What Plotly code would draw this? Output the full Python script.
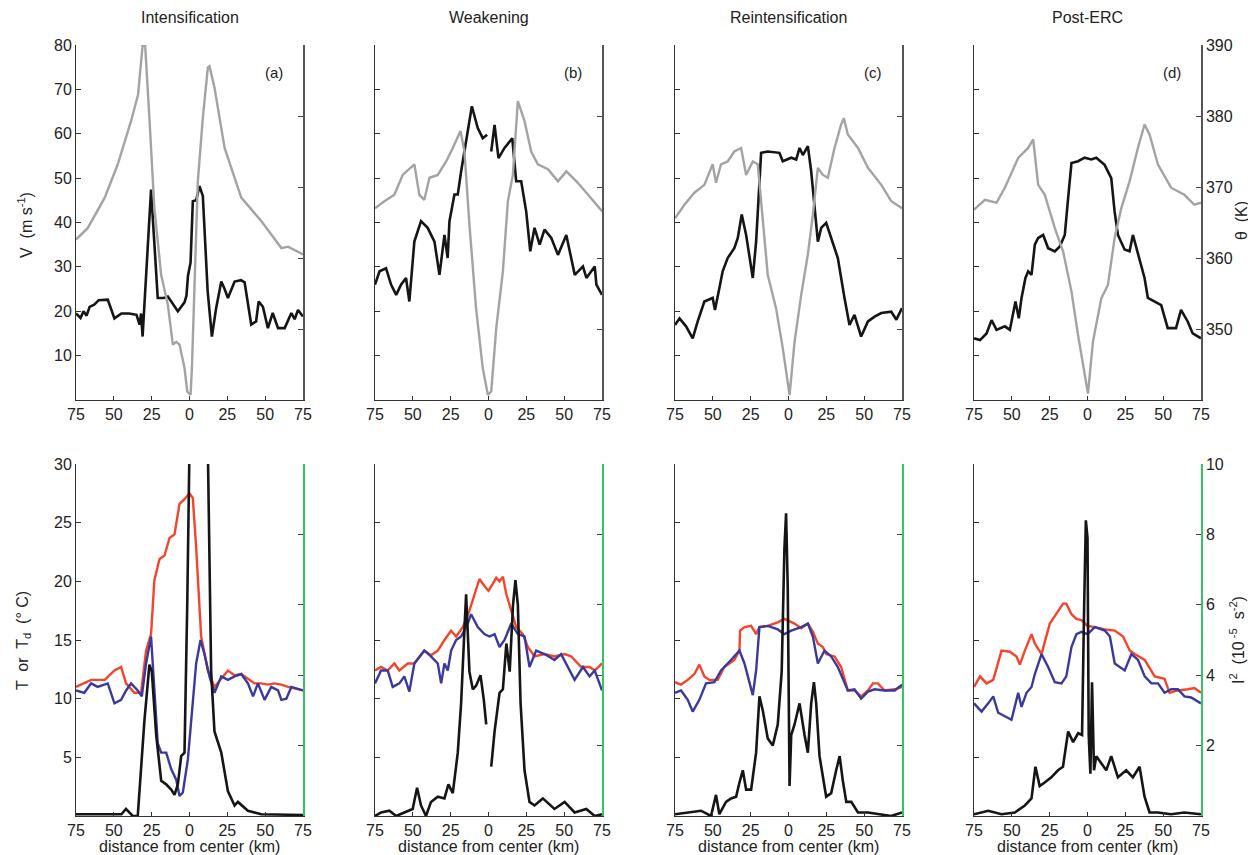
import plotly.graph_objects as go

# ---------------- data ----------------
# top row: tangential wind V (m/s, left axis) and theta (K, right axis)
INT_V_X = [-75, -72, -70, -68, -66, -63, -60, -57, -54, -49.6, -45, -40, -35, -33, -32, -31, -25.4, -21, -17, -14.3,
           -7.7, -3.3, -2, -1, 0.7, 2.2, 4.4, 6.6, 8.8, 12, 14.8, 17.6, 21, 23, 25.4, 29.8, 34, 36.4, 40.8, 44,
           45.7, 48.5, 51.8, 55, 58.5, 62.9, 67.3, 69.5, 71.7, 75]
INT_V = [19.5, 18.5, 20, 19, 21, 21.5, 22.5, 22.5, 22.6, 18.4, 19.5, 19.5, 19.2, 17, 19.5, 14.3, 47.4, 23, 23, 23.3,
         20, 22, 23.5, 28, 31, 44.8, 45, 48.2, 46, 24.5, 14.3, 20.7, 26.7, 25.2, 23, 26.7, 27, 26.5, 17, 17.7,
         22.2, 21, 16.2, 19.6, 16.2, 16.2, 19.6, 18.2, 20.3, 18.8]
INT_TH_X = [-75, -67.3, -56, -47.4, -38.6, -34, -31, -29.3, -26.5, -23.2, -18.7, -14.3, -11, -8.8, -6.6, -3.3, -1.5,
            0.7, 1.6, 3.3, 5.5, 8.8, 12.1, 13.2, 16.5, 23.2, 34.2, 47.4, 60.7, 65.1, 75]
INT_TH = [362.6, 364.2, 368.5, 373.2, 379.3, 383, 389.9, 389.9, 379.7, 367, 357.6, 353.4, 347.8, 348.2, 347.8, 344.5,
          341.2, 340.7, 344.5, 357.6, 370.8, 379.7, 386.8, 387, 384, 375.5, 368.5, 365.2, 361.4, 361.6, 360.5]

WEAK_V_X = [-75, -72, -67.7, -64.4, -61, -57.8, -54.5, -52.3, -49, -44.6, -40.2, -35.7, -32.4, -29.1, -27, -25.8,
            -22.5, -20.3, -18.1, -14.8, -11, -7.1, -3.8, -0.9, 0.4, 1.8, 4, 6.6, 10.6, 15.7, 18.3, 21.6, 24.9, 27.6,
            30.4, 33.8, 37, 41.5, 45.9, 51.4, 57, 62.4, 64.7, 70.2, 71.3, 75]
WEAK_V = [26, 29, 29.7, 26, 23.7, 26, 27.5, 22.2, 35.7, 40.3, 38.8, 35.7, 28.2, 37.2, 32, 40.3,
          46.3, 46.3, 51.5, 58.3, 66.2, 61.3, 59, 59.8, None, 56, 62, 54.5, 56.8, 59, 49.3, 49.3, 42.5, 33.5,
          38.8, 35, 38.4, 36.5, 32.7, 37.2, 28.2, 30.1, 27.5, 30.1, 26, 23.7]
WEAK_TH_X = [-75, -68.8, -62.2, -56.7, -49, -45.7, -42.4, -39, -33.5, -28, -23.6, -18.5, -15.9, -12.6, -8.2, -3.8,
             -0.4, 1.8, 5.1, 9.5, 12.8, 16.1, 19.4, 23.8, 28.2, 32.6, 39.3, 45.9, 51.4, 58.1, 65.8, 75]
WEAK_TH = [367, 368, 368.9, 371.7, 373.2, 368.9, 368.2, 371.3, 371.7, 373.6, 375.5, 377.9, 375, 364.7, 352.9, 344.5,
           340.7, 341.2, 350.1, 358.1, 368, 371.7, 382.1, 379.3, 375, 373.2, 372.5, 370.8, 372.2, 370.8, 368.9, 366.6]

REINT_V_X = [-75, -72, -67.7, -63.3, -60, -55.6, -50.1, -48.6, -45.7, -43.5, -40.2, -35.8, -33.5, -30.9, -28, -23.6,
             -21.4, -18.1, -13.7, -6, -3.8, 1.8, 5.1, 7.3, 9.5, 12.8, 15, 17.2, 19.4, 21.6, 24.9, 28.2, 32.6, 37,
             40.3, 43.6, 48, 52.5, 56.9, 61.3, 67.9, 71.3, 75]
REINT_V = [16.9, 18.4, 16.6, 13.9, 17.7, 22.2, 23, 20.3, 25.2, 29, 32, 34.2, 36.5, 41.8, 37.2, 27.5,
           35.7, 55.7, 56, 55.7, 53.8, 54.6, 54.2, 56.8, 55.2, 57.2, 51.5, 43.3, 35.7, 38.8, 39.9, 36.5, 32, 23,
           16.9, 19.2, 14.3, 17.7, 18.8, 19.6, 19.9, 18.1, 20.7]
REINT_TH_X = [-75, -68.8, -62.2, -55.6, -50.1, -47.9, -44.6, -40.2, -35.8, -31.3, -28, -23.6, -20.3, -18.1, -13.7,
              -8.2, -3.8, 0.7, 4, 8.4, 12.8, 16.1, 19.4, 22.7, 26, 30.4, 34.8, 36.6, 39.2, 45.9, 52.5, 61.3, 67.9, 75]
REINT_TH = [365.6, 367.5, 369.2, 370.3, 373.2, 370.6, 373.2, 373.6, 375, 375.5, 371.7, 373.6, 373.2, 368, 357.6,
            352.9, 347.3, 340.7, 348.2, 354.8, 360.5, 366.1, 372.7, 371.7, 371.3, 375.5, 378.8, 379.7, 377.4, 375.5,
            372.7, 370.3, 368, 367]

POST_V_X = [-75, -71, -66.7, -63.4, -60.1, -54.6, -51.3, -47.6, -45.4, -43.6, -41, -39.2, -37, -34.8, -32.6, -29.3,
            -26, -21.6, -18.3, -15, -12.8, -10.6, -6.2, -1.9, 2.5, 5.8, 11.3, 15.7, 17.9, 20.1, 24.5, 27.8, 30, 34.4,
            37.7, 39.9, 44.3, 48.7, 53, 58.5, 61.8, 66.2, 69.5, 75]
POST_V = [13.9, 13.5, 15, 18, 15.8, 16.6, 15.8, 22.2, 18.4, 23, 27.5, 29, 28.2, 35, 36.5, 37.2,
          34.2, 33.5, 34.6, 37.2, 45.5, 53.4, 53.8, 54.6, 54.2, 54.6, 53, 50, 42.5, 37.2, 33.9, 33.5, 37.2, 32,
          27.5, 23, 22.2, 21.4, 16.2, 16.2, 20.3, 17.7, 15, 13.9]
POST_TH_X = [-75, -67.8, -60.1, -54.6, -45.8, -39.2, -35.9, -32.6, -28.2, -21.6, -16.1, -10.6, -6.3, -1.9, 0.3, 3.6,
             9.1, 13.5, 17.9, 22.3, 27.8, 33.3, 37.7, 41, 46.5, 55.2, 64, 70.6, 75]
POST_TH = [366.8, 368.2, 367.8, 369.9, 374.1, 375.5, 376.7, 370.3, 368.9, 364.2, 360.9, 355.3, 349.2, 344, 340.9,
           348.2, 354.3, 356.2, 362.8, 367, 370.8, 375.5, 378.8, 377.4, 373.2, 369.9, 368.9, 367.5, 367.8]

# bottom row: T, Td (deg C, left axis) and I^2 (1e-5 s^-2, right axis)
INT_T_X = [-75, -69.5, -65, -56, -49.6, -45.2, -41.9, -36.4, -32, -28.7, -25.4, -23.2, -19.8, -16.5, -13.2, -9.9,
           -6.6, -3.3, 0, 2.2, 4.4, 7.7, 12.1, 16.5, 23.2, 25.4, 29.8, 34.2, 43, 47.4, 51.8, 56.2, 60.7, 65.1, 75]
INT_T = [11, 11.3, 11.6, 11.6, 12.4, 12.7, 11.3, 10.5, 10.5, 14.1, 15.5, 20.1, 21.9, 22.2, 23.7, 24,
         26.6, 27, 27.5, 27.1, 22.9, 15.3, 12.4, 11, 12.1, 12.4, 12, 12.1, 11.3, 11.3, 11.2, 11.3, 11.2, 11, 10.7]
INT_TD_X = [-75, -69.5, -65, -60.7, -54, -49.6, -45.2, -41.9, -38.6, -34.2, -31.5, -28.7, -25.4, -23.2, -21, -18.7,
            -15.4, -12.1, -8.8, -6.6, -4.4, -1.1, 2.2, 4.4, 7.3, 9.9, 13.2, 16.5, 21, 25.4, 29.8, 34.2, 38.6, 42,
            45.2, 49.6, 54, 58.5, 60.7, 64, 67.3, 75]
INT_TD = [10.7, 10.5, 11.3, 11, 11.3, 9.6, 9.9, 10.7, 11.3, 10.7, 10.2, 13, 15.3, 10.7, 6.2, 5.4,
          5.4, 4, 3.1, 1.7, 2, 4.8, 9.6, 13, 15, 13.8, 11.9, 10.5, 11.9, 11.6, 11.9, 12.1, 11.3, 10.2,
          11.3, 9.9, 11, 10.7, 9.9, 10, 11, 10.7]
INT_I2_X = [-75, -60, -45, -42, -37.5, -34.2, -29.8, -26.5, -24.9, -22, -18.7, -15.4, -12.1, -9.9, -7.7, -5.5, -3.3,
            -1.5, 0, 3, 6, 9, 12.1, 12.8, 14.3, 16.5, 21, 25.4, 29.8, 32, 38.6, 47.4, 60, 75]
INT_I2 = [0.05, 0.05, 0.05, 0.2, 0, 0, 2.7, 4.3, 4.1, 2.3, 1.0, 0.9, 0.75, 0.6, 0.9, 1.7, 1.8,
          6.0, 10.5, 12, 12, 12, 10.5, 8.4, 4.1, 2.4, 1.8, 0.7, 0.3, 0.4, 0.15, 0.05, 0.05, 0.03]

WEAK_T_X = [-75, -71, -66.6, -62.2, -58.9, -53.4, -49, -45.7, -42.4, -38, -33.5, -29.1, -24.7, -21.4, -17, -12.6,
            -9.3, -6, -2.7, 0, 2.9, 5.1, 7.3, 9.5, 11.8, 15, 18.3, 22.7, 26, 30.4, 37, 43.6, 50.3, 54.7, 61.3,
            66.8, 70.2, 75]
WEAK_T = [12.4, 12.7, 12.4, 13, 12.4, 13, 13, 13.6, 14.1, 13.7, 14.1, 15, 15.8, 15.3, 16.1, 17.5,
          18.9, 20.2, 19.6, 19.2, 19.8, 20.3, 20, 20.4, 18.9, 17.5, 16.1, 15.5, 14.4, 13.6, 13.8, 13.6, 13.8, 13.6,
          12.7, 12.7, 12.4, 13]
WEAK_TD_X = [-75, -71, -66.6, -63.3, -58.9, -55.6, -52.3, -49, -42.4, -38, -33.5, -31.3, -29.1, -26.9, -24.7, -21.4,
             -18.1, -13.7, -11.5, -7.1, -2.7, 0.7, 4, 7.3, 10.6, 15, 19.4, 23.8, 27.1, 31.5, 37, 43.6, 48, 52.5,
             56.9, 62.4, 66.8, 70.2, 75]
WEAK_TD = [11.3, 12.4, 12.4, 11, 11.3, 11.9, 10.6, 13, 14.1, 13.6, 13, 11.3, 13, 12.4, 14.1, 15,
           15.3, 16.4, 17.2, 16.1, 15.5, 15.3, 15.5, 14.4, 15, 16.4, 15.5, 15.3, 12.7, 14.1, 13.8, 13.3, 13.8, 12.7,
           11.6, 12.7, 11.9, 12.4, 10.7]
WEAK_I2_X = [-75, -71, -65.5, -61, -55.6, -50.1, -47.2, -44.6, -41.3, -38, -33.5, -29.1, -26.5, -23.6, -20.3, -18.1,
             -15.9, -14.8, -12.6, -10.4, -8.2, -5.3, -3.1, -1.5, 0, 1.8, 4, 7.3, 9.5, 11.8, 14, 16.2, 17.8, 19.4,
             21.2, 23.8, 27.1, 30.4, 35.9, 43.6, 50.3, 56.9, 64.6, 70.2, 75]
WEAK_I2 = [0, 0.1, 0.15, 0, 0.1, 0.2, 0.8, 0.3, 0, 0.4, 0.55, 0.5, 0.9, 0.65, 1.8, 3.2,
           5.3, 6.3, 4.1, 3.6, 3.7, 4.0, 3.3, 2.6, None, 1.4, 2.4, 3.5, 3.6, 4.9, 4.1, 6.0, 6.7, 6.0,
           3.2, 1.3, 0.4, 0.3, 0.5, 0.2, 0.4, 0.1, 0.2, 0, 0.05]

REINT_T_X = [-75, -71, -66.6, -62.2, -58.9, -55.6, -52.3, -46.8, -42.4, -35.8, -32.4, -32, -29.1, -24.7, -21.4,
             -19.2, -13.7, -7.1, -2.7, 1.8, 4, 8.4, 12.8, 16.1, 19.4, 22.7, 24.9, 30.4, 34.8, 39.2, 43.6, 48, 52.5,
             55.8, 59.1, 63.5, 70.2, 75]
REINT_T = [11.4, 11.2, 11.6, 12.1, 12.9, 11.9, 11.6, 11.6, 12.7, 13.3, 14.1, 15.8, 16.1, 16.2, 15.5,
           16.1, 16.2, 16.5, 16.8, 16.5, 16.4, 16, 16.4, 15.7, 14.7, 14.4, 13.8, 13.6, 12.7, 10.7, 10.7, 10.2, 10.7,
           11.3, 11.3, 10.7, 10.8, 11]
REINT_TD_X = [-75, -71, -66.6, -63.3, -58.9, -54.5, -49, -44.6, -38, -32.4, -29.1, -25.8, -23.6, -21.4, -19.2,
              -13.7, -7.1, -2.7, 1.8, 8.4, 12.8, 16.1, 19.4, 23.8, 28.2, 32.6, 39.2, 43.6, 48, 52.5, 56.9, 63.5,
              70.2, 75]
REINT_TD = [10.5, 10.7, 9.9, 8.9, 9.9, 11.3, 11.4, 12.4, 13.3, 14.1, 13, 11.3, 10.3, 12.4, 16.1,
            16.2, 15.9, 15.5, 15.8, 16.1, 16.4, 15.3, 13, 14.1, 13.6, 12.7, 10.7, 10.8, 10, 10.6, 10.8, 10.7,
            10.7, 11.2]
REINT_I2_X = [-75, -64.4, -57.8, -51.2, -47.9, -45.7, -41.3, -38, -34.6, -32.4, -30.2, -28, -24.7, -21.4, -19.2,
              -17, -13.7, -10.4, -7.1, -4.5, -2.7, -1.6, -0.5, 0.7, 1.8, 4, 7.3, 10.6, 12.8, 15, 16.8, 18.3, 20.5,
              24.9, 28.2, 31.5, 33.8, 35.9, 38.2, 41.5, 45.9, 52.5, 61.3, 67.9, 75]
REINT_I2 = [0.05, 0.1, 0.15, 0, 0.6, 0.05, 0.4, 0.5, 0.55, 0.95, 1.3, 0.75, 0.75, 1.8, 3.4,
            3.0, 2.2, 2.0, 2.6, 4.1, 7.6, 8.6, 6.5, 0.85, 2.3, 2.6, 3.2, 2.3, 1.8, 3.2, 3.8, 3.2, 1.7,
            0.55, 0.65, 1.3, 1.7, 1.0, 0.4, 0.4, 0.1, 0.1, 0.05, 0, 0.1]

POST_T_X = [-75, -71, -66.7, -62.3, -56.8, -51.3, -46.9, -44.7, -41.4, -37, -34.8, -30.4, -24.9, -20.5, -16.1, -14,
            -10.6, -7.3, -4, 0, 4.9, 11.5, 18, 23.5, 27.9, 31.2, 37.8, 44.4, 50.9, 54.2, 59.7, 66.3, 70.7, 75]
POST_T = [11, 11.9, 11.3, 11.6, 14.1, 14, 13.6, 12.9, 14.1, 15.5, 14.7, 13.8, 16.4, 17.2, 18.1, 18.1,
          17.2, 16.8, 16.7, 16.2, 16.1, 15.9, 15.8, 15.3, 14.1, 13.8, 13.3, 11.9, 11.7, 10.5, 10.7, 10.8, 10.9, 10.5]
POST_TD_X = [-75, -70, -65.6, -62.3, -59, -54.6, -50.2, -45.8, -43.6, -40.3, -37, -34.8, -30.4, -26, -21.6, -17.2,
             -14, -10.6, -7.3, -4, 0, 4.9, 11.5, 14.8, 18, 24.6, 29, 33.4, 37.8, 42.2, 46.6, 50.9, 55.3, 59.7, 64.1,
             68.5, 75]
POST_TD = [9.6, 8.9, 9.6, 10.2, 8.8, 8.5, 8.2, 10.5, 9.3, 10.5, 11, 12.1, 13.8, 12.7, 11.4, 11.3,
           11.9, 14.4, 15.5, 15.7, 15.5, 16.1, 15.8, 15.3, 13, 12.4, 13.8, 13.3, 11.9, 11.3, 11.3, 10.5, 10.8, 10.8,
           10.2, 10.1, 9.6]
POST_I2_X = [-75, -65.6, -56.8, -48, -41.4, -37, -34.4, -31.6, -28.3, -23.9, -19.5, -16.2, -12.8, -9.5, -6.2, -3.6,
             -2.2, -1.1, 0, 0.8, 1.9, 3, 4.3, 5.8, 9.1, 12.4, 15.7, 20.1, 25.6, 30, 34.4, 37.7, 41, 46.5, 55.2, 64,
             75]
POST_I2 = [0.05, 0.15, 0.05, 0.1, 0.3, 0.5, 1.4, 0.85, 0.95, 1.1, 1.3, 1.4, 2.4, 2.1, 2.35, 2.3,
           6.0, 8.4, 7.9, 2.3, 1.2, 3.8, 1.3, 1.7, 1.5, 1.3, 1.7, 1.1, 1.3, 1.1, 1.4, 0.55, 0.1, 0.1, 0.05,
           0.1, 0.05]

STAGES = ['Intensification', 'Weakening', 'Reintensification', 'Post-ERC']
LETTERS = ['(a)', '(b)', '(c)', '(d)']
X_TICKS = [-75, -50, -25, 0, 25, 50, 75]
X_TICKTEXT = ['75', '50', '25', '0', '25', '50', '75']

top_data = [
    (INT_TH_X, INT_TH, INT_V_X, INT_V),
    (WEAK_TH_X, WEAK_TH, WEAK_V_X, WEAK_V),
    (REINT_TH_X, REINT_TH, REINT_V_X, REINT_V),
    (POST_TH_X, POST_TH, POST_V_X, POST_V),
]
bottom_data = [
    (INT_T_X, INT_T, INT_TD_X, INT_TD, INT_I2_X, INT_I2),
    (WEAK_T_X, WEAK_T, WEAK_TD_X, WEAK_TD, WEAK_I2_X, WEAK_I2),
    (REINT_T_X, REINT_T, REINT_TD_X, REINT_TD, REINT_I2_X, REINT_I2),
    (POST_T_X, POST_T, POST_TD_X, POST_TD, POST_I2_X, POST_I2),
]

# ---------------- styling ----------------
W, H = 1256, 855
FONT = 'Liberation Sans, Arial, Helvetica, sans-serif'
TXT = '#222222'
BLACK = '#151515'
GRAY = '#a3a3a3'
RED = '#f2452c'
BLUE = '#3a399c'
GREEN = '#35c46a'

col_px = [(68, 295), (367, 594), (667, 894), (966, 1193)]
row_px = [(37, 392), (456, 808)]


def xdom(c):
    return [col_px[c][0] / W, col_px[c][1] / W]


def ydom(r):
    return [1 - row_px[r][1] / H, 1 - row_px[r][0] / H]


def label(text, px, py, size=16, angle=0):
    # text centred (roughly) on a pixel position of the page
    return dict(text=text, x=px / W, y=1 - py / H, xref='paper', yref='paper',
                xanchor='center', yanchor='middle', showarrow=False, textangle=angle,
                font=dict(family=FONT, size=size, color=TXT))


fig = go.Figure()
layout = {}

for r in range(2):
    for c in range(4):
        p = r * 4 + c
        xn = p + 1
        y1 = 2 * p + 1
        y2 = 2 * p + 2
        xref = 'x' if xn == 1 else 'x%d' % xn
        y1ref = 'y' if y1 == 1 else 'y%d' % y1
        y2ref = 'y%d' % y2

        if r == 0:
            thx, th, vx, v = top_data[c]
            fig.add_trace(go.Scatter(x=thx, y=th, xaxis=xref, yaxis=y2ref, mode='lines',
                                     line=dict(color=GRAY, width=2.4), showlegend=False))
            fig.add_trace(go.Scatter(x=vx, y=v, xaxis=xref, yaxis=y1ref, mode='lines',
                                     line=dict(color=BLACK, width=2.6), showlegend=False))
            left_range, left_ticks = [0, 80], [10, 20, 30, 40, 50, 60, 70, 80]
            right_range, right_ticks = [340, 390], [350, 360, 370, 380, 390]
            right_color = '#555555'
        else:
            tx, t, tdx, td, ix, i2 = bottom_data[c]
            fig.add_trace(go.Scatter(x=tx, y=t, xaxis=xref, yaxis=y1ref, mode='lines',
                                     line=dict(color=RED, width=2.4), showlegend=False))
            fig.add_trace(go.Scatter(x=tdx, y=td, xaxis=xref, yaxis=y1ref, mode='lines',
                                     line=dict(color=BLUE, width=2.4), showlegend=False))
            fig.add_trace(go.Scatter(x=ix, y=i2, xaxis=xref, yaxis=y2ref, mode='lines',
                                     line=dict(color=BLACK, width=2.6), showlegend=False))
            left_range, left_ticks = [0, 30], [5, 10, 15, 20, 25, 30]
            right_range, right_ticks = [0, 10], [2, 4, 6, 8, 10]
            right_color = GREEN

        xkey = 'xaxis' if xn == 1 else 'xaxis%d' % xn
        y1key = 'yaxis' if y1 == 1 else 'yaxis%d' % y1
        y2key = 'yaxis%d' % y2

        layout[xkey] = dict(domain=xdom(c), anchor=y1ref, range=[-75, 75],
                            tickvals=X_TICKS, ticktext=X_TICKTEXT, ticks='inside', ticklen=4,
                            tickcolor='#333333', showline=True, linecolor='#333333', linewidth=1,
                            showgrid=False, zeroline=False, automargin=False,
                            tickfont=dict(family=FONT, size=16, color=TXT))
        layout[y1key] = dict(domain=ydom(r), anchor=xref, range=left_range,
                             tickvals=left_ticks, ticks='inside', ticklen=5, tickcolor='#333333',
                             showticklabels=(c == 0), showline=True, linecolor='#333333', linewidth=1,
                             showgrid=False, zeroline=False, automargin=False,
                             tickfont=dict(family=FONT, size=16, color=TXT))
        layout[y2key] = dict(overlaying=y1ref, side='right', anchor=xref, range=right_range,
                             tickvals=right_ticks, ticks='inside', ticklen=5, tickcolor='#444444',
                             showticklabels=(c == 3), showline=True, linecolor=right_color, linewidth=1.5,
                             showgrid=False, zeroline=False, automargin=False,
                             tickfont=dict(family=FONT, size=16, color=TXT))

annotations = []
for c in range(4):
    cx = (col_px[c][0] + col_px[c][1]) / 2
    annotations.append(label(STAGES[c], cx, 9))
    annotations.append(label(LETTERS[c], col_px[c][1] - 29, 65, size=15))
    annotations.append(label('distance from center (km)', cx, 838))

annotations += [
    label('V  (m s<sup>-1</sup>)', 17, 217, angle=-90),
    label('T  or  T<sub>d</sub>  (° C)', 15, 633, angle=-90),
    label('θ  (K)', 1233, 213, angle=-90),
    label('I<sup>2</sup>  (10<sup> -5</sup>  s<sup>-2</sup>)', 1229, 632, angle=-90),
]

fig.update_layout(
    width=W, height=H,
    margin=dict(l=0, r=0, t=0, b=0),
    paper_bgcolor='white', plot_bgcolor='white',
    annotations=annotations,
    **layout,
)

fig.write_html("out.html")
